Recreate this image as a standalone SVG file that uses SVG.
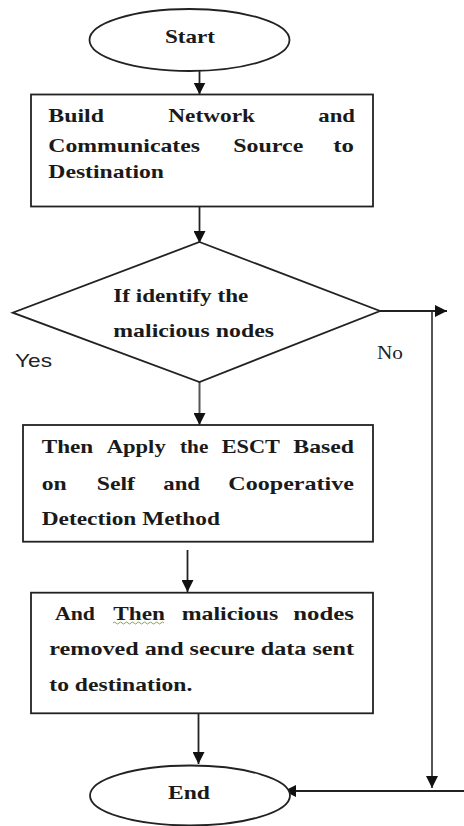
<svg xmlns="http://www.w3.org/2000/svg" width="464" height="826" viewBox="0 0 464 826">
<style>
.shape{fill:#fff;stroke:#222;stroke-width:1.8}
.t{font-family:"Liberation Serif","Times New Roman",serif;font-weight:bold;font-size:19px;fill:#1a1a1a}
.yes{font-family:"Liberation Sans",Arial,sans-serif;font-size:19px;fill:#222}
.no{font-family:"Liberation Serif","Times New Roman",serif;font-size:19px;fill:#222}
.c{fill:none;stroke:#222;stroke-width:1.8}
.cg{fill:none;stroke:#555;stroke-width:2}
</style>
<defs>
<marker id="ah" markerUnits="userSpaceOnUse" markerWidth="12" markerHeight="12" refX="12" refY="6" orient="auto">
<path d="M0,0 L12,6 L0,12 z" fill="#111"/>
</marker>
</defs>
<rect width="464" height="826" fill="#fff"/>
<g id="connectors">
<line class="c" x1="199.5" y1="71" x2="199.5" y2="94.5" marker-end="url(#ah)"/>
<line class="c" x1="199.5" y1="206.5" x2="199.5" y2="243" marker-end="url(#ah)"/>
<line class="cg" x1="199.5" y1="382" x2="199.5" y2="425" marker-end="url(#ah)"/>
<line class="c" x1="187.5" y1="550" x2="187.5" y2="592" marker-end="url(#ah)"/>
<line class="c" x1="198.5" y1="713.5" x2="198.5" y2="764" marker-end="url(#ah)"/>
<line class="c" x1="380" y1="311" x2="447" y2="311" marker-end="url(#ah)"/>
<line class="cg" x1="432" y1="312" x2="432" y2="788" marker-end="url(#ah)"/>
<line class="c" x1="464" y1="791" x2="284" y2="791" marker-end="url(#ah)"/>
<text class="yes" x="15" y="367" textLength="37" lengthAdjust="spacingAndGlyphs">Yes</text>
<text class="no" x="377" y="359" textLength="26" lengthAdjust="spacingAndGlyphs">No</text>
</g>
<g id="start">
<ellipse class="shape" cx="189.5" cy="40" rx="100" ry="31"/>
<text class="t" x="165" y="43" textLength="50" lengthAdjust="spacingAndGlyphs">Start</text>
</g>
<g id="build">
<rect class="shape" x="31" y="94.5" width="342" height="112"/>
<text class="t" x="48.3" y="121.7" textLength="55.7" lengthAdjust="spacingAndGlyphs">Build</text>
<text class="t" x="168.3" y="121.7" textLength="86.7" lengthAdjust="spacingAndGlyphs">Network</text>
<text class="t" x="318.3" y="121.7" textLength="36.7" lengthAdjust="spacingAndGlyphs">and</text>
<text class="t" x="48.3" y="151.7" textLength="151.7" lengthAdjust="spacingAndGlyphs">Communicates</text>
<text class="t" x="233.3" y="151.7" textLength="70" lengthAdjust="spacingAndGlyphs">Source</text>
<text class="t" x="333.3" y="151.7" textLength="20.7" lengthAdjust="spacingAndGlyphs">to</text>
<text class="t" x="48.3" y="178.3" textLength="115.7" lengthAdjust="spacingAndGlyphs">Destination</text>
</g>
<g id="decision">
<polygon class="shape" points="199.5,242 380,311 199.5,382 12.7,312.7"/>
<text class="t" x="113.3" y="301.7" textLength="135" lengthAdjust="spacingAndGlyphs">If identify the</text>
<text class="t" x="113.3" y="336.7" textLength="160.7" lengthAdjust="spacingAndGlyphs">malicious nodes</text>
</g>
<g id="apply">
<rect class="shape" x="23" y="425" width="350" height="116.7"/>
<text class="t" x="41.7" y="453.3" textLength="51.6" lengthAdjust="spacingAndGlyphs">Then</text>
<text class="t" x="106.7" y="453.3" textLength="59" lengthAdjust="spacingAndGlyphs">Apply</text>
<text class="t" x="180" y="453.3" textLength="28.3" lengthAdjust="spacingAndGlyphs">the</text>
<text class="t" x="221.7" y="453.3" textLength="58.3" lengthAdjust="spacingAndGlyphs">ESCT</text>
<text class="t" x="293.3" y="453.3" textLength="60.7" lengthAdjust="spacingAndGlyphs">Based</text>
<text class="t" x="41.7" y="490" textLength="25" lengthAdjust="spacingAndGlyphs">on</text>
<text class="t" x="96.7" y="490" textLength="38.3" lengthAdjust="spacingAndGlyphs">Self</text>
<text class="t" x="163.3" y="490" textLength="36.7" lengthAdjust="spacingAndGlyphs">and</text>
<text class="t" x="228.3" y="490" textLength="125.7" lengthAdjust="spacingAndGlyphs">Cooperative</text>
<text class="t" x="41.7" y="525" textLength="178.3" lengthAdjust="spacingAndGlyphs">Detection Method</text>
</g>
<g id="remove">
<rect class="shape" x="31" y="592.7" width="342" height="120.6"/>
<text class="t" x="55" y="620" textLength="40" lengthAdjust="spacingAndGlyphs">And</text>
<text class="t" x="113.3" y="620" textLength="51.7" lengthAdjust="spacingAndGlyphs">Then</text>
<path d="M113,623 q1.5,-2 3,0 t3,0 t3,0 t3,0 t3,0 t3,0 t3,0 t3,0 t3,0 t3,0 t3,0 t3,0 t3,0 t3,0 t3,0 t3,0 t3,0" fill="none" stroke="#7a9a3a" stroke-width="0.9"/>
<text class="t" x="181.7" y="620" textLength="96.6" lengthAdjust="spacingAndGlyphs">malicious</text>
<text class="t" x="293.3" y="620" textLength="60.7" lengthAdjust="spacingAndGlyphs">nodes</text>
<text class="t" x="49.3" y="655" textLength="304.7" lengthAdjust="spacingAndGlyphs">removed and secure data sent</text>
<text class="t" x="49.3" y="690.7" textLength="143" lengthAdjust="spacingAndGlyphs">to destination.</text>
</g>
<g id="end">
<ellipse class="shape" cx="190" cy="795.5" rx="100" ry="30"/>
<text class="t" x="168" y="799" textLength="42" lengthAdjust="spacingAndGlyphs">End</text>
</g>
</svg>
